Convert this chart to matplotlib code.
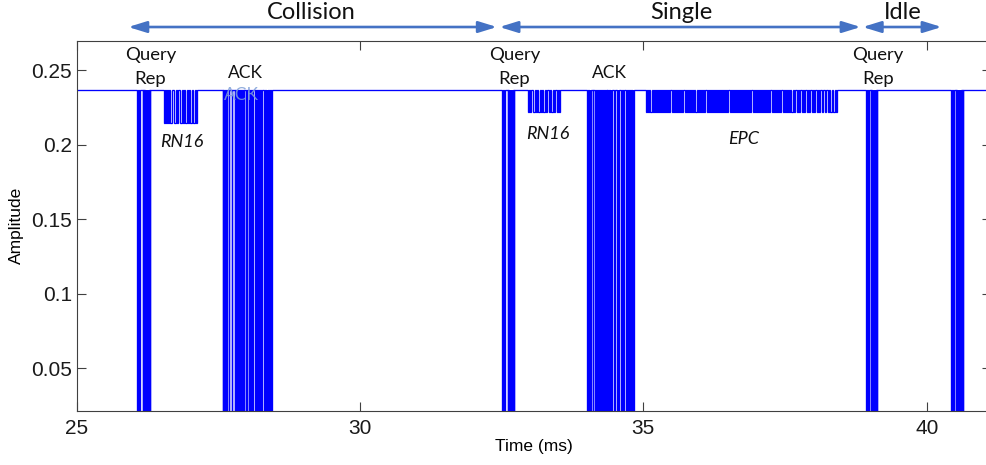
import matplotlib
matplotlib.use("Agg")
import matplotlib.pyplot as plt
from matplotlib.patches import FancyArrowPatch

# ---------------- signal description (time in ms, amplitude) ----------------
baseline_level = 0.2366
reader_low_level = 0.0
reader_pulse_width = 0.010

# reader commands: start times of the low-going pulses
query_rep_1 = [26.07, 26.10, 26.165, 26.185, 26.205, 26.225, 26.245, 26.265, 26.285]
ack_1 = [27.576, 27.608, 27.635, 27.684, 27.732, 27.785, 27.811, 27.850, 27.890,
         27.917, 27.949, 27.996, 28.032, 28.058, 28.102, 28.155, 28.181, 28.220,
         28.261, 28.314, 28.340, 28.367, 28.402, 28.429]
query_rep_2 = [32.51, 32.54, 32.61, 32.63, 32.65, 32.67, 32.69, 32.71]
ack_2 = [34.013, 34.040, 34.066, 34.110, 34.155, 34.190, 34.225, 34.261, 34.296,
         34.322, 34.357, 34.384, 34.411, 34.437, 34.490, 34.534, 34.560, 34.605,
         34.649, 34.693, 34.737, 34.772, 34.799, 34.822]
query_rep_3 = [38.93, 38.965, 39.015, 39.035, 39.055, 39.075, 39.095, 39.115]
query_rep_4 = [40.43, 40.465, 40.515, 40.535, 40.555, 40.575, 40.595, 40.615, 40.635]

# tag replies: span, low level and level sequence ('1' = carrier, '0' = modulated)
rn16_1_span = (26.542, 27.118)
rn16_1_low = 0.2145
rn16_1_levels = "010101001100101100101001010010010"

rn16_2_span = (32.972, 33.528)
rn16_2_low = 0.222
rn16_2_levels = "01011001010010100101101001011010"

epc_span = (35.055, 38.439)
epc_low = 0.222
epc_levels = ("0101001010" "1010101010" "1010110101" "0101010110" "1010101010"
              "0101010101" "1010101010" "1010101010" "1011010101" "0101010101"
              "0101011010" "1010101010" "1010110101" "0101011010" "1010100101"
              "1010110101" "1010110101" "1010110110" "110100100101")

# axis settings
x_range = (25, 41.134)
y_range = (0.0213, 0.27)
x_ticks = [25, 30, 35, 40]
y_ticks = [0.05, 0.1, 0.15, 0.2, 0.25]
y_tick_labels = ["0.05", "0.1", "0.15", "0.2", "0.25"]

# phase annotations above the axes
phase_names = ["Collision", "Single", "Idle"]
phase_arrows = [(25.91, 32.415), (32.46, 38.835), (38.87, 40.264)]
phase_label_x = [29.131, 35.672, 39.572]

# packet annotations
query_label_x = [26.30, 32.722, 39.14]
ack_label_x = [27.97, 34.405]
rn16_label_pos = [(26.858, 0.1983), (33.322, 0.2042)]
epc_label_pos = (36.763, 0.2008)


# ---------------- build the trace ----------------
def reader_burst(times):
    pts = []
    for t0 in times:
        t1 = t0 + reader_pulse_width
        pts += [(t0, baseline_level), (t0, reader_low_level),
                (t1, reader_low_level), (t1, baseline_level)]
    return pts


def tag_burst(span, low, levels):
    start, end = span
    step = (end - start) / len(levels)
    pts = [(start, baseline_level)]
    for i, ch in enumerate(levels):
        y = baseline_level if ch == "1" else low
        pts += [(start + i * step, y), (start + (i + 1) * step, y)]
    pts.append((end, baseline_level))
    return pts


bursts = [
    reader_burst(query_rep_1),
    tag_burst(rn16_1_span, rn16_1_low, rn16_1_levels),
    reader_burst(ack_1),
    reader_burst(query_rep_2),
    tag_burst(rn16_2_span, rn16_2_low, rn16_2_levels),
    reader_burst(ack_2),
    tag_burst(epc_span, epc_low, epc_levels),
    reader_burst(query_rep_3),
    reader_burst(query_rep_4),
]
bursts.sort(key=lambda b: b[0][0])

trace = [(x_range[0], baseline_level)]
for b in bursts:
    trace += b
trace.append((x_range[1], baseline_level))
t_vals = [p[0] for p in trace]
a_vals = [p[1] for p in trace]

# ---------------- figure ----------------
plt.rcParams["font.family"] = ["Liberation Sans", "DejaVu Sans"]
fig = plt.figure(figsize=(9.87, 4.65), dpi=100)
ax = fig.add_axes([0.0777, 0.1161, 0.9263, 0.7968])

ax.plot(t_vals, a_vals, color="#0000FF", lw=0.95, solid_joinstyle="miter")

ax.set_xlim(*x_range)
ax.set_ylim(*y_range)
ax.set_xticks(x_ticks)
ax.set_yticks(y_ticks)
ax.set_yticklabels(y_tick_labels)
ax.tick_params(direction="in", length=6.7, width=0.8, color="#404040",
               top=True, right=True, labelsize=15, labelcolor="#1a1a1a")
ax.tick_params(axis="x", pad=6)
ax.tick_params(axis="y", pad=3.5)
for s in ax.spines.values():
    s.set_color("#404040")
    s.set_linewidth(0.8)
ax.spines["right"].set_visible(False)

ax.set_xlabel("Time (ms)", fontsize=12.5)
ax.set_ylabel("Amplitude", fontsize=12.5)
ax.xaxis.set_label_coords(0.5, -0.075)
ax.yaxis.set_label_coords(-0.058, 0.5)

# phase arrows and names
bt = ax.get_xaxis_transform()
arrow_color = "#4472C4"
for (x0, x1) in phase_arrows:
    arr = FancyArrowPatch((x0, 1.0364), (x1, 1.0364), transform=bt,
                          arrowstyle="<|-|>,head_length=11,head_width=3.4",
                          mutation_scale=1, shrinkA=0, shrinkB=0,
                          color=arrow_color, lw=1.9, clip_on=False)
    ax.add_artist(arr)
for name, x in zip(phase_names, phase_label_x):
    ax.text(x, 1.0567, name, transform=bt, ha="center", va="baseline",
            fontsize=17, family="Lato", color="#111111", clip_on=False)

# packet labels
for x in query_label_x:
    ax.text(x, 0.2572, "Query", ha="center", va="baseline", fontsize=13.3,
            family="Lato", color="#111111", clip_on=False)
    ax.text(x, 0.2411, "Rep", ha="center", va="baseline", fontsize=13.3,
            family="Lato", color="#111111", clip_on=False)
for x in ack_label_x:
    ax.text(x, 0.2451, "ACK", ha="center", va="baseline", fontsize=12.5,
            family="Lato", color="#111111")
for (x, y) in rn16_label_pos:
    ax.text(x, y, "RN16", ha="center", va="baseline", fontsize=13,
            family="Lato", style="italic", color="#111111")
ax.text(epc_label_pos[0], epc_label_pos[1], "EPC", ha="center", va="baseline",
        fontsize=13, family="Lato", style="italic", color="#111111")
ax.text(27.91, 0.2299, "ACK", ha="center", va="baseline", fontsize=12.5,
        family="Lato", color="#7f9fd8", alpha=0.85, zorder=5)

fig.savefig("out.png", dpi=100)
